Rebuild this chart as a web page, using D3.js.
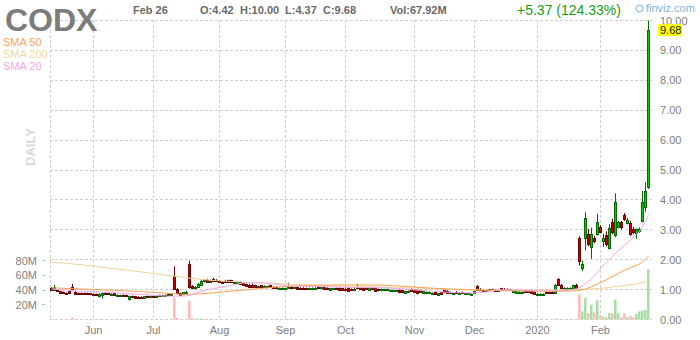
<!DOCTYPE html>
<html>
<head>
<meta charset="utf-8">
<script src="https://cdn.jsdelivr.net/npm/d3@7"></script>
<style>
  body { margin: 0; background: #fff; }
  svg { display: block; font-family: "Liberation Sans", Arial, sans-serif; }
</style>
</head>
<body>
<script>
// daily candles, May 13 2019 .. Feb 26 2020 (index = trading day)
const opens = [
  1.06,0.99,1.00,0.94,0.92,0.88,0.95,1.10,0.93,0.88, 0.88,0.88,0.88,0.87,0.86,0.85,0.80,0.82,0.88,0.88,
  0.84,0.87,0.80,0.79,0.82,0.81,0.70,0.78,0.77,0.76, 0.76,0.73,0.78,0.74,0.79,0.77,0.81,0.79,0.80,0.84,
  0.81,1.44,1.03,0.88,0.85,0.88,1.87,1.12,1.04,1.08, 1.16,1.28,1.32,1.24,1.34,1.33,1.30,1.27,1.30,1.31,
  1.31,1.22,1.22,1.26,1.22,1.18,1.14,1.16,1.14,1.08, 1.14,1.08,1.09,1.14,1.10,1.09,1.02,1.03,1.01,1.04,
  1.10,1.04,1.08,1.06,1.06,1.05,1.01,1.02,1.03,1.10, 1.04,1.08,1.06,1.00,1.01,1.05,1.06,1.04,1.03,1.04,
  1.02,0.99,1.10,1.07,1.05,1.05,1.00,1.06,1.05,1.02, 0.98,0.99,0.98,0.96,0.96,0.95,0.99,0.98,0.90,0.92,
  1.02,0.99,0.98,0.97,0.90,0.88,0.89,0.84,0.91,0.83, 0.91,0.97,0.96,0.88,0.86,0.93,0.85,0.91,0.84,0.84,
  0.84,0.90,1.13,1.03,1.00,0.95,1.01,1.01,1.00,0.96, 1.04,1.03,1.02,1.01,0.91,0.90,0.90,0.91,0.96,0.95,
  0.94,0.92,0.83,0.82,0.81,0.92,0.91,0.92,0.88,1.34, 1.17,1.00,1.00,1.01,1.06,1.17,2.73,1.73,2.73,2.87,
  2.44,2.73,2.87,3.09,2.62,2.84,2.40,3.25,2.81,3.11, 3.25,3.48,3.22,3.22,3.03,2.90,2.95,3.31,3.75,4.42
];
const highs = [
  1.08,1.16,1.02,0.96,0.94,0.90,0.97,1.19,0.95,0.90, 0.90,0.90,0.90,0.89,0.88,0.87,0.88,0.90,0.90,0.89,
  0.88,0.88,0.84,0.83,0.84,0.83,0.80,0.80,0.79,0.78, 0.77,0.78,0.80,0.80,0.81,0.81,0.83,0.83,0.84,0.86,
  0.86,1.78,1.05,0.90,0.92,0.95,1.97,1.15,1.12,1.22, 1.34,1.36,1.36,1.34,1.40,1.35,1.32,1.29,1.33,1.33,
  1.33,1.28,1.27,1.28,1.24,1.20,1.18,1.20,1.16,1.14, 1.16,1.14,1.13,1.16,1.12,1.11,1.07,1.07,1.06,1.23,
  1.12,1.10,1.10,1.08,1.08,1.07,1.07,1.07,1.08,1.12, 1.10,1.10,1.08,1.05,1.06,1.07,1.08,1.05,1.05,1.06,
  1.04,1.05,1.19,1.09,1.07,1.06,1.06,1.08,1.07,1.04, 1.04,1.03,1.03,1.00,1.00,0.99,1.01,1.00,0.96,0.98,
  1.04,1.01,1.00,0.99,0.96,0.94,0.94,0.90,0.93,0.89, 0.93,0.99,0.98,0.94,0.92,0.95,0.90,0.93,0.88,0.88,
  0.88,0.96,1.15,1.05,1.02,1.00,1.03,1.03,1.02,1.01, 1.06,1.05,1.04,1.03,0.97,0.96,0.95,0.95,0.98,0.97,
  0.96,0.94,0.88,0.88,0.87,0.94,0.93,0.94,1.19,1.38, 1.19,1.08,1.08,1.08,1.17,1.19,2.78,1.97,3.59,3.03,
  3.07,2.80,3.54,3.15,2.87,2.95,3.18,3.37,4.22,3.30, 3.30,3.56,3.40,3.30,3.10,3.05,3.08,4.30,4.59,10.00
];
const lows = [
  0.98,0.97,0.92,0.88,0.85,0.83,0.88,0.95,0.84,0.82, 0.83,0.83,0.83,0.82,0.80,0.80,0.74,0.70,0.82,0.82,
  0.82,0.81,0.78,0.77,0.77,0.75,0.63,0.72,0.71,0.70, 0.70,0.72,0.73,0.73,0.75,0.76,0.78,0.78,0.79,0.80,
  0.80,1.00,0.86,0.80,0.84,0.87,1.03,1.02,1.00,1.06, 1.14,1.24,1.24,1.22,1.28,1.26,1.22,1.20,1.24,1.25,
  1.24,1.20,1.20,1.18,1.14,1.10,1.06,1.08,1.08,1.06, 1.08,1.07,1.08,1.06,1.05,1.04,1.01,1.01,1.00,1.02,
  1.03,1.02,1.00,0.99,1.00,0.99,1.00,1.01,1.02,1.04, 1.03,1.00,0.99,0.99,1.00,1.00,0.98,0.96,0.95,0.92,
  0.97,0.98,1.02,1.00,0.98,0.99,0.99,1.00,0.93,0.94, 0.97,0.98,0.97,0.95,0.95,0.94,0.88,0.89,0.89,0.91,
  0.94,0.90,0.84,0.90,0.89,0.87,0.88,0.82,0.83,0.82, 0.84,0.88,0.87,0.87,0.85,0.86,0.84,0.85,0.83,0.83,
  0.83,0.89,0.98,0.96,0.94,0.94,0.95,0.96,0.95,0.95, 0.98,0.97,0.96,0.95,0.90,0.89,0.89,0.90,0.90,0.90,
  0.86,0.84,0.81,0.80,0.80,0.85,0.85,0.86,0.86,1.12, 1.04,0.99,0.99,1.00,1.05,1.04,1.81,1.62,2.31,2.45,
  2.03,2.55,2.80,2.88,2.42,2.45,2.35,2.85,2.75,3.05, 3.00,3.30,3.18,2.80,2.85,2.70,2.90,3.25,3.60,4.37
];
const closes = [
  1.00,1.08,0.94,0.90,0.87,0.85,0.90,0.99,0.86,0.85, 0.85,0.86,0.84,0.84,0.82,0.82,0.86,0.87,0.84,0.85,
  0.86,0.83,0.82,0.81,0.79,0.78,0.78,0.74,0.73,0.72, 0.73,0.77,0.75,0.78,0.77,0.80,0.79,0.82,0.83,0.82,
  0.84,1.03,0.88,0.82,0.91,0.93,1.08,1.04,1.10,1.18, 1.30,1.32,1.26,1.30,1.30,1.28,1.24,1.22,1.26,1.27,
  1.26,1.26,1.25,1.20,1.16,1.12,1.08,1.10,1.10,1.12, 1.10,1.12,1.12,1.08,1.07,1.06,1.05,1.05,1.04,1.10,
  1.05,1.08,1.02,1.01,1.02,1.01,1.05,1.06,1.07,1.06, 1.08,1.02,1.01,1.04,1.04,1.02,1.00,0.98,0.97,0.95,
  0.99,1.03,1.04,1.02,1.00,1.01,1.04,1.02,0.96,0.97, 1.02,1.01,1.01,0.99,0.98,0.98,0.91,0.92,0.94,0.96,
  0.96,0.92,0.90,0.92,0.94,0.92,0.92,0.88,0.86,0.87, 0.86,0.91,0.90,0.92,0.90,0.88,0.88,0.87,0.87,0.87,
  0.86,0.94,1.00,0.98,0.96,0.98,0.97,0.98,0.97,0.99, 1.00,0.99,0.98,0.97,0.95,0.94,0.93,0.93,0.92,0.92,
  0.88,0.86,0.86,0.85,0.85,0.87,0.87,0.88,1.16,1.14, 1.06,1.07,1.06,1.07,1.15,1.06,1.97,1.86,3.40,2.51,
  2.87,2.62,3.25,2.92,2.73,2.53,3.07,2.92,3.92,3.25, 3.09,3.37,3.33,2.87,2.92,3.03,3.03,3.92,4.31,9.68
];
// volume, millions of shares
const volumes = [
  0.3,0.4,0.2,0.2,0.2,0.2,0.3,3.0,0.4,0.2, 0.2,0.2,0.1,0.1,0.2,0.1,0.3,0.4,0.2,0.1,
  0.1,0.1,0.2,0.1,0.1,0.2,0.5,0.2,0.1,0.1, 0.1,0.2,0.1,0.2,0.1,0.1,0.1,0.2,0.1,0.1,
  0.2,30.0,2.0,0.6,0.4,0.3,25.0,1.5,0.8,0.9, 1.2,0.6,0.4,0.5,0.4,0.3,0.3,0.3,0.2,0.2,
  0.2,0.3,0.2,0.2,0.3,0.2,0.2,0.2,0.1,0.2, 0.1,0.1,0.2,0.1,0.1,0.1,0.1,0.1,0.1,0.6,
  0.2,0.1,0.1,0.1,0.1,0.1,0.1,0.1,0.1,0.1, 0.1,0.1,0.1,0.1,0.1,0.1,0.1,0.1,0.1,0.1,
  0.1,0.1,0.4,0.1,0.1,0.1,0.1,0.1,0.2,0.1, 0.1,0.1,0.1,0.1,0.1,0.1,0.2,0.1,0.1,0.1,
  0.1,0.1,0.2,0.1,0.1,0.1,0.1,0.1,0.1,0.1, 0.1,0.1,0.1,0.1,0.1,0.1,0.1,0.1,0.1,0.1,
  0.1,0.1,0.5,0.2,0.1,0.1,0.1,0.1,0.1,0.1, 0.2,0.1,0.1,0.1,0.1,0.1,0.1,0.1,0.1,0.1,
  0.1,0.1,0.1,0.1,0.1,0.1,0.1,0.1,1.2,1.0, 0.4,0.2,0.2,0.2,0.3,0.3,34.0,11.0,29.0,8.6,
  20.0,9.5,26.0,5.4,4.0,3.0,8.6,8.6,27.0,8.6, 3.0,8.6,3.0,5.0,3.0,7.7,11.0,12.0,13.0,67.92
];

// moving averages at these trading-day indexes
const sma20Idx = [0,10,20,30,40,45,50,55,60,65,70,75,80,90,100,110,120,130,140,145,150,160,170,175,178,180,185,190,195,197,199];
const sma20Val = [1.02,0.95,0.90,0.84,0.78,0.79,0.95,1.05,1.14,1.23,1.22,1.17,1.13,1.10,1.07,1.06,1.00,0.92,0.89,0.92,1.00,0.98,0.97,1.03,1.20,1.36,1.92,2.40,2.85,3.09,3.50];
const sma50Idx = [0,10,20,30,40,45,50,60,70,80,90,100,110,120,130,140,150,160,170,175,178,180,185,190,195,197,199];
const sma50Val = [1.06,1.02,0.98,0.93,0.87,0.84,0.86,0.95,1.04,1.12,1.15,1.16,1.15,1.09,1.03,0.99,0.97,0.95,0.95,0.96,1.02,1.10,1.33,1.60,1.82,1.92,2.13];
const sma200Idx = [0,10,20,30,40,50,60,70,80,90,100,110,120,130,140,150,160,170,175,180,185,190,195,199];
const sma200Val = [1.92,1.83,1.71,1.59,1.46,1.34,1.27,1.23,1.18,1.14,1.11,1.08,1.05,1.02,1.00,0.98,0.98,0.99,1.00,1.02,1.06,1.12,1.19,1.27];

const monthIdx = [14,34,56,78,98,121,141,162,183];
const monthLabels = ["Jun","Jul","Aug","Sep","Oct","Nov","Dec","2020","Feb"];
const priceTicks = [0,1,2,3,4,5,6,7,8,9,10];
const volTicks = [20,40,60,80];

const w = 700, h = 340;
const n = closes.length;

const svg = d3.select("body").append("svg")
    .attr("width", w)
    .attr("height", h);

const x = d3.scaleBand()
    .domain(d3.range(n))
    .range([50, 650]);

const y = d3.scaleLinear()
    .domain([0, 10])
    .range([319.5, 20.5]);

const yVol = d3.scaleLinear()
    .domain([0, 80])
    .range([319.5, 260.5]);

const cx = i => x(i) + 1.5;
const crisp = v => Math.floor(v) + 0.5;

// grid
const grid = svg.append("g")
    .attr("stroke", "#cfcfcf")
    .attr("stroke-dasharray", "3,2");

grid.selectAll("line.h")
    .data(priceTicks)
    .enter().append("line")
    .attr("x1", 50).attr("x2", 652)
    .attr("y1", d => crisp(y(d)))
    .attr("y2", d => crisp(y(d)));

grid.selectAll("line.v")
    .data([0].concat(monthIdx))
    .enter().append("line")
    .attr("x1", d => d === 0 ? 50.5 : cx(d))
    .attr("x2", d => d === 0 ? 50.5 : cx(d))
    .attr("y1", 20).attr("y2", 320);

// volume bars
svg.append("g").selectAll("rect")
    .data(d3.range(n))
    .enter().append("rect")
    .attr("x", i => x(i))
    .attr("width", x.bandwidth() - 0.4)
    .attr("y", i => yVol(volumes[i]))
    .attr("height", i => yVol(0) - yVol(volumes[i]))
    .attr("fill", i => closes[i] >= opens[i] ? "#a9dea9" : "#ffbaba");

// candles
const candles = svg.append("g");
const up = i => closes[i] >= opens[i];

candles.selectAll("line")
    .data(d3.range(n))
    .enter().append("line")
    .attr("x1", cx).attr("x2", cx)
    .attr("y1", i => y(highs[i]))
    .attr("y2", i => y(lows[i]))
    .attr("stroke", i => up(i) ? "#006b00" : "#6e0000");

candles.selectAll("rect")
    .data(d3.range(n))
    .enter().append("rect")
    .attr("x", i => x(i) + 0.5)
    .attr("width", 2)
    .attr("y", i => Math.round(y(Math.max(opens[i], closes[i]))) + 0.5)
    .attr("height", i => Math.max(1, Math.round(y(Math.min(opens[i], closes[i]))) - Math.round(y(Math.max(opens[i], closes[i])))))
    .attr("fill", i => up(i) ? "#00d000" : "#d00000")
    .attr("stroke", i => up(i) ? "#006b00" : "#6e0000");

// moving averages
const line = d3.line()
    .x(d => cx(d[0]))
    .y(d => y(d[1]))
    .curve(d3.curveMonotoneX);

[[sma200Idx, sma200Val, "#f2d49c"], [sma50Idx, sma50Val, "#ff9f50"], [sma20Idx, sma20Val, "#f3a6e8"]]
    .forEach(s => {
        svg.append("path")
            .datum(s[0].map((d, k) => [d, s[1][k]]))
            .attr("fill", "none")
            .attr("stroke", s[2])
            .attr("stroke-width", 1)
            .attr("d", line);
    });

// price axis (right)
svg.append("g").selectAll("text")
    .data(priceTicks)
    .enter().append("text")
    .attr("x", 660)
    .attr("y", d => y(d) + 4)
    .attr("font-size", 11)
    .attr("fill", "#808080")
    .text(d => d.toFixed(2));

// last price tag
const last = closes[n - 1];
svg.append("rect")
    .attr("x", 658).attr("y", y(last) - 6)
    .attr("width", 24).attr("height", 12)
    .attr("fill", "#ffff00");
svg.append("text")
    .attr("x", 660).attr("y", y(last) + 4)
    .attr("font-size", 11)
    .attr("fill", "#222")
    .text(last.toFixed(2));

// volume axis (left)
const vAxis = svg.append("g");
vAxis.selectAll("line")
    .data(volTicks)
    .enter().append("line")
    .attr("x1", 42).attr("x2", 45)
    .attr("y1", d => crisp(yVol(d))).attr("y2", d => crisp(yVol(d)))
    .attr("stroke", "#bbb");
vAxis.selectAll("text")
    .data(volTicks)
    .enter().append("text")
    .attr("x", 37)
    .attr("y", d => yVol(d) + 4)
    .attr("text-anchor", "end")
    .attr("font-size", 11)
    .attr("fill", "#808080")
    .text(d => d + "M");

// month labels
svg.append("g").selectAll("text")
    .data(monthIdx)
    .enter().append("text")
    .attr("x", cx)
    .attr("y", 334)
    .attr("text-anchor", "middle")
    .attr("font-size", 11)
    .attr("fill", "#808080")
    .text((d, k) => monthLabels[k]);

// header
svg.append("text")
    .attr("x", 5).attr("y", 30.5)
    .attr("font-size", 32).attr("font-weight", "bold")
    .attr("fill", "#7c7c7c")
    .text("CODX");

svg.append("text")
    .attr("x", 133).attr("y", 14)
    .attr("font-size", 11).attr("font-weight", "bold")
    .attr("fill", "#6a6a6a")
    .text("Feb 26");

const ohlc = [[200, "O:4.42"], [240, "H:10.00"], [285, "L:4.37"], [323, "C:9.68"], [390, "Vol:67.92M"]];
svg.append("g").selectAll("text")
    .data(ohlc)
    .enter().append("text")
    .attr("x", d => d[0]).attr("y", 14)
    .attr("font-size", 11).attr("font-weight", "bold")
    .attr("fill", "#6a6a6a")
    .text(d => d[1]);

svg.append("text")
    .attr("x", 517).attr("y", 15)
    .attr("font-size", 14)
    .attr("fill", "#14a014")
    .text("+5.37 (124.33%)");

svg.append("circle")
    .attr("cx", 639.5).attr("cy", 8.5).attr("r", 3.5)
    .attr("fill", "none").attr("stroke", "#7fb2e0");
svg.append("text")
    .attr("x", 646).attr("y", 12)
    .attr("font-size", 11)
    .attr("fill", "#7fb2e0")
    .text("finviz.com");

// legend
const legend = [["SMA 50", "#ffa35a"], ["SMA 200", "#f3d9a8"], ["SMA 20", "#f3a8e6"]];
svg.append("g").selectAll("text")
    .data(legend)
    .enter().append("text")
    .attr("x", 3)
    .attr("y", (d, k) => 46 + k * 11.8)
    .attr("font-size", 11)
    .attr("fill", d => d[1])
    .text(d => d[0]);

svg.append("text")
    .attr("transform", "translate(35,147) rotate(-90)")
    .attr("text-anchor", "middle")
    .attr("font-size", 13).attr("font-weight", "bold")
    .attr("fill", "#d9d9d9")
    .text("DAILY");
</script>
</body>
</html>
